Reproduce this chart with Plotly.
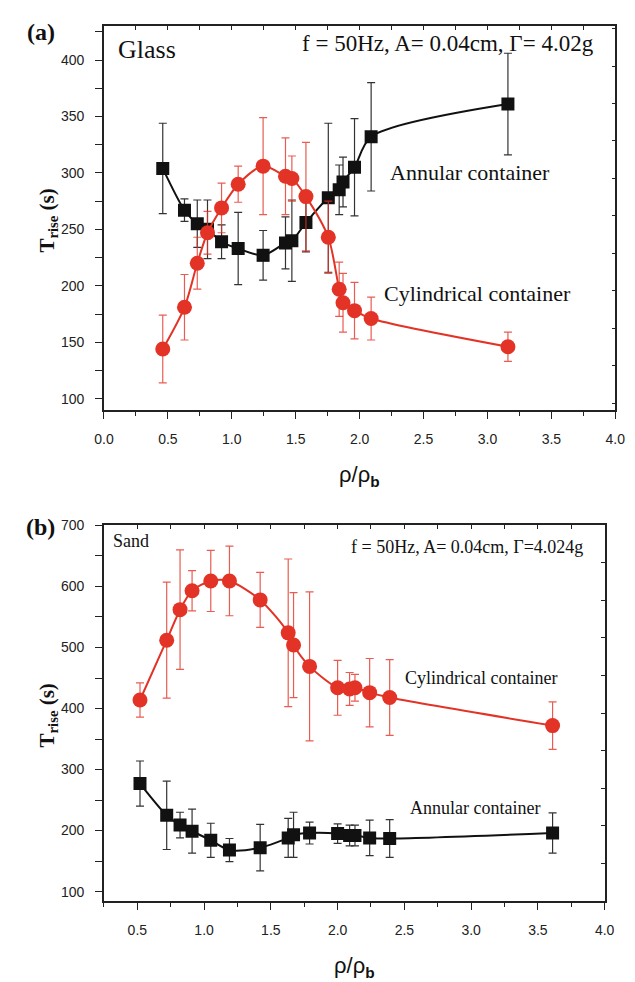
import plotly.graph_objects as go

# ---------------- data: panel (a) Glass ----------------
rho_a = [0.46, 0.63, 0.73, 0.81, 0.92, 1.05, 1.245, 1.42, 1.47, 1.58, 1.755, 1.84, 1.87, 1.96, 2.09, 3.16]
ann_a = [304, 267, 255, 250, 239, 233, 227, 238, 240, 256, 278, 285, 292, 305, 332, 361]
ann_a_err = [40, 10, 21, 26, 15, 32, 22, 23, 36, 26, 66, 22, 22, 43, 48, 45]
cyl_a = [144, 181, 220, 247, 269, 290, 306, 297, 295, 279, 243, 197, 185, 178, 171, 146]
cyl_a_err = [30, 29, 23, 19, 22, 16, 43, 34, 20, 48, 32, 24, 26, 25, 19, 13]

# ---------------- data: panel (b) Sand ----------------
rho_b = [0.52, 0.72, 0.82, 0.91, 1.05, 1.19, 1.42, 1.63, 1.67, 1.79, 2.0, 2.09, 2.13, 2.24, 2.39, 3.61]
cyl_b = [414, 512, 562, 593, 609, 609, 578, 524, 504, 469, 434, 432, 434, 426, 418, 372]
cyl_b_err = [28, 95, 98, 33, 50, 57, 45, 121, 86, 122, 45, 27, 22, 56, 62, 39]
ann_b = [277, 225, 209, 199, 184, 168, 172, 188, 193, 196, 195, 192, 192, 188, 187, 196]
ann_b_err = [37, 56, 21, 36, 28, 19, 38, 32, 37, 18, 16, 17, 17, 29, 31, 33]

W, H = 635, 982
RED = "#e23326"
BLACK = "#111111"
SERIF = "Liberation Serif, Times New Roman, serif"
SANS = "Liberation Sans, Arial, sans-serif"


def px(x):
    return x / W


def py(y):
    return 1 - y / H


fig = go.Figure()


def add_series(x, y, err, color, symbol, size, xa, ya, errcolor):
    fig.add_trace(go.Scatter(
        x=x, y=y, xaxis=xa, yaxis=ya, mode="lines+markers",
        line=dict(color=color, width=2, shape="spline", smoothing=0.8),
        marker=dict(color=color, symbol=symbol, size=size, line=dict(width=0)),
        error_y=dict(type="data", array=err, visible=True, color=errcolor,
                     thickness=1.2, width=4),
        showlegend=False, hoverinfo="skip"))


add_series(rho_a, ann_a, ann_a_err, BLACK, "square", 13, "x", "y", "#333333")
add_series(rho_a, cyl_a, cyl_a_err, RED, "circle", 15, "x", "y", "rgba(226,51,38,0.8)")
add_series(rho_b, ann_b, ann_b_err, BLACK, "square", 13, "x2", "y2", "#333333")
add_series(rho_b, cyl_b, cyl_b_err, RED, "circle", 15, "x2", "y2", "rgba(226,51,38,0.8)")

tickfont = dict(family=SANS, size=14, color="#222")
line_common = dict(showline=True, linecolor="#222", linewidth=1.5, showgrid=False,
                   zeroline=False, tickcolor="#222", tickwidth=1.2)

dom_xa = [97 / W, 625 / W]
dom_xb = [97 / W, 614 / W]
dom_ya = [py(405.3), py(18.3)]
dom_yb = [py(900.7), py(521.7)]

fig.update_layout(
    width=W, height=H, margin=dict(l=0, r=0, t=0, b=0),
    paper_bgcolor="white", plot_bgcolor="white",
    xaxis=dict(domain=dom_xa, range=[0, 4], anchor="y", dtick=0.5, tick0=0,
               tickformat=".1f", ticks="outside", ticklen=7, tickfont=tickfont,
               ticklabelstandoff=8,
               minor=dict(dtick=0.25, ticks="outside", ticklen=4, tickcolor="#222"),
               **line_common),
    yaxis=dict(domain=dom_ya, range=[90, 430], anchor="x", dtick=50, tick0=0,
               ticks="outside", ticklen=7, tickfont=tickfont, ticklabelstandoff=8,
               minor=dict(dtick=25, ticks="outside", ticklen=7, tickcolor="#222"),
               **line_common),
    xaxis3=dict(domain=dom_xa, range=[0, 4], overlaying="x", anchor="y", side="top",
                dtick=0.25, tick0=0, ticks="inside", ticklen=4, showticklabels=False,
                **line_common),
    yaxis3=dict(domain=dom_ya, range=[90, 430], overlaying="y", anchor="x", side="right",
                tick0=394.7, dtick=33.2, ticks="inside", ticklen=4, showticklabels=False,
                **line_common),
    xaxis2=dict(domain=dom_xb, range=[0.25, 4.0], anchor="y2", dtick=0.5, tick0=0,
                tickformat=".1f", ticks="outside", ticklen=7, tickfont=tickfont,
                ticklabelstandoff=8,
                minor=dict(dtick=0.25, ticks="outside", ticklen=4, tickcolor="#222"),
                **line_common),
    yaxis2=dict(domain=dom_yb, range=[84, 700], anchor="x2", dtick=100, tick0=0,
                ticks="outside", ticklen=7, tickfont=tickfont, ticklabelstandoff=8,
                minor=dict(dtick=50, ticks="outside", ticklen=7, tickcolor="#222"),
                **line_common),
    xaxis4=dict(domain=dom_xb, range=[0.25, 4.0], overlaying="x2", anchor="y2", side="top",
                dtick=0.25, tick0=0, ticks="inside", ticklen=4, showticklabels=False,
                **line_common),
    yaxis4=dict(domain=dom_yb, range=[84, 700], overlaying="y2", anchor="x2", side="right",
                tick0=639, dtick=61.6, ticks="inside", ticklen=4, showticklabels=False,
                **line_common),
)

# invisible traces so overlay axes are drawn
fig.add_trace(go.Scatter(x=[None], y=[None], xaxis="x3", yaxis="y3", showlegend=False))
fig.add_trace(go.Scatter(x=[None], y=[None], xaxis="x4", yaxis="y4", showlegend=False))


def note(text, x, y, size, family=SERIF, xanchor="left", angle=0, color="#111"):
    fig.add_annotation(text=text, x=px(x), y=py(y), xref="paper", yref="paper",
                       xanchor=xanchor, yanchor="middle", showarrow=False,
                       textangle=angle, font=dict(family=family, size=size, color=color))


# panel (a)
note("<b>(a)</b>", 15, 24, 24)
note("Glass", 109, 42, 26)
note("f = 50Hz, A= 0.04cm, Γ= 4.02g", 605, 36, 23, xanchor="right")
note("Annular container", 390, 166, 22)
note("Cylindrical container", 384, 288, 22)
note("<b>T<sub>rise</sub> (s)</b>", 24, 214, 21, angle=-90)
note("ρ/ρ<sub><b>b</b></sub>", 361, 472, 22, family=SANS, xanchor="center")

# panel (b)
note("<b>(b)</b>", 14, 523, 24)
note("Sand", 104, 537, 18)
note("f = 50Hz, A= 0.04cm, Γ=4.024g", 594, 543, 18, xanchor="right")
note("Cylindrical container", 406, 675, 18)
note("Annular container", 411, 807, 18)
note("<b>T<sub>rise</sub> (s)</b>", 24, 713, 21, angle=-90)
note("ρ/ρ<sub><b>b</b></sub>", 356, 967, 22, family=SANS, xanchor="center")

fig.write_html("out.html")
